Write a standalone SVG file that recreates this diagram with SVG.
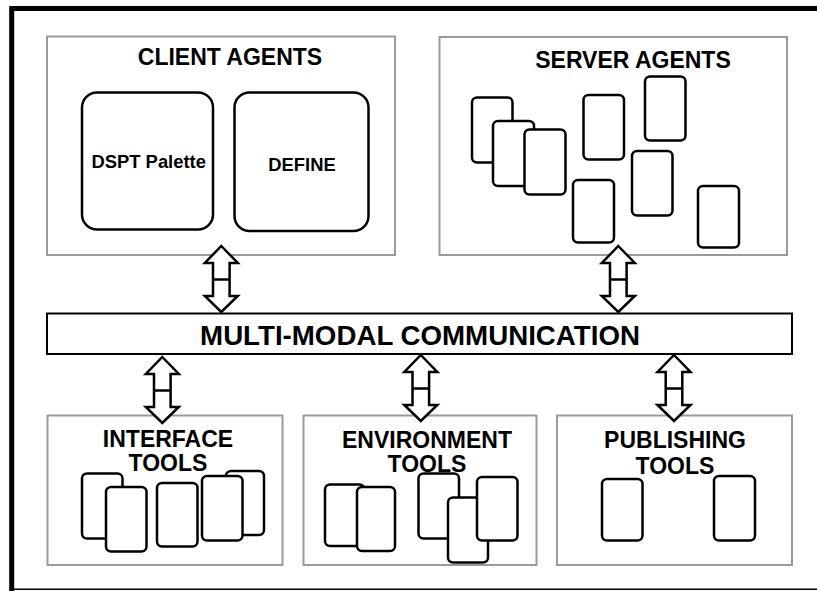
<svg xmlns="http://www.w3.org/2000/svg" width="817" height="591" viewBox="0 0 817 591">
  <style>
    .group { fill: #ffffff; stroke: #9a9a9a; stroke-width: 2; }
    .card { fill: #ffffff; stroke: #000000; stroke-width: 2.5; }
    .bar { fill: #ffffff; stroke: #000000; stroke-width: 2; }
    .arrow { fill: #ffffff; stroke: #000000; stroke-width: 2.5; stroke-linejoin: miter; }
    .cross { stroke: #000000; stroke-width: 2.5; fill: none; }
    .title { font-family: "Liberation Sans", Arial, sans-serif; font-weight: bold; font-size: 23px; text-anchor: middle; fill: #000000; }
    .label { font-family: "Liberation Sans", Arial, sans-serif; font-weight: bold; font-size: 18.4px; text-anchor: middle; fill: #000000; }
    .bus { font-family: "Liberation Sans", Arial, sans-serif; font-weight: bold; font-size: 27.7px; text-anchor: middle; fill: #000000; }
  </style>
  <defs>
    <!-- double-headed hollow arrow, centred on x=0, spanning y 0..66 -->
    <g id="dblArrow">
      <polygon class="arrow" points="0,0 16.5,17 8.3,17 8.3,50 16.5,50 0,66 -16.5,50 -8.3,50 -8.3,17 -16.5,17"/>
      <line class="cross" x1="-8.3" y1="33.5" x2="8.3" y2="33.5"/>
    </g>
  </defs>

  <rect x="0" y="0" width="817" height="591" fill="#ffffff"/>

  <!-- page frame -->
  <path d="M11.7 591 V8.5 H817" fill="none" stroke="#000000" stroke-width="5"/>
  <line x1="14" y1="589.3" x2="817" y2="589.3" stroke="#000000" stroke-width="1.5"/>

  <g id="client-agents">
    <rect class="group" x="47" y="36.5" width="348" height="218.5"/>
    <text class="title" x="230" y="65">CLIENT AGENTS</text>
    <g id="dspt-palette">
      <rect class="card" x="82" y="92.5" width="131" height="137" rx="15"/>
      <text class="label" x="148.7" y="168">DSPT Palette</text>
    </g>
    <g id="define">
      <rect class="card" x="234.5" y="92.5" width="134" height="138.5" rx="15"/>
      <text class="label" x="302" y="171">DEFINE</text>
    </g>
  </g>

  <g id="server-agents">
    <rect class="group" x="439.5" y="37" width="347.5" height="218"/>
    <text class="title" x="633" y="68">SERVER AGENTS</text>
    <rect class="card" x="472" y="97.5" width="40.5" height="65" rx="5"/>
    <rect class="card" x="493" y="121" width="41" height="65" rx="5"/>
    <rect class="card" x="524.5" y="129.5" width="41" height="65" rx="5"/>
    <rect class="card" x="583.5" y="95" width="40.5" height="64.5" rx="5"/>
    <rect class="card" x="645" y="76.5" width="40.5" height="64" rx="5"/>
    <rect class="card" x="632" y="151" width="40.5" height="64.5" rx="5"/>
    <rect class="card" x="573" y="180" width="41" height="62.5" rx="5"/>
    <rect class="card" x="698" y="186" width="41" height="61.5" rx="5"/>
  </g>

  <g id="multi-modal-communication">
    <rect class="bar" x="47" y="313.5" width="745" height="40.5"/>
    <text class="bus" x="420" y="345">MULTI-MODAL COMMUNICATION</text>
  </g>

  <g id="interface-tools">
    <rect class="group" x="47.5" y="415.5" width="235" height="149.5"/>
    <text class="title" x="168" y="447">INTERFACE</text>
    <text class="title" x="168" y="471">TOOLS</text>
    <rect class="card" x="82" y="473.5" width="40.5" height="65" rx="5"/>
    <rect class="card" x="106" y="487" width="40.5" height="64.5" rx="5"/>
    <rect class="card" x="157" y="483" width="40.5" height="63.5" rx="5"/>
    <rect class="card" x="226" y="471" width="38" height="64" rx="5"/>
    <rect class="card" x="202" y="476" width="40.5" height="64.5" rx="5"/>
  </g>

  <g id="environment-tools">
    <rect class="group" x="303.5" y="415.5" width="233" height="149.5"/>
    <text class="title" x="427" y="448">ENVIRONMENT</text>
    <text class="title" x="427" y="472">TOOLS</text>
    <rect class="card" x="325" y="484.5" width="39.5" height="61.5" rx="5"/>
    <rect class="card" x="357" y="487" width="38" height="64" rx="5"/>
    <rect class="card" x="418.5" y="473.5" width="40.5" height="65" rx="5"/>
    <rect class="card" x="448" y="497.5" width="40" height="65" rx="5"/>
    <rect class="card" x="477" y="477" width="40.5" height="63.5" rx="5"/>
  </g>

  <g id="publishing-tools">
    <rect class="group" x="557" y="415.5" width="235" height="149.5"/>
    <text class="title" x="675" y="448">PUBLISHING</text>
    <text class="title" x="675" y="474">TOOLS</text>
    <rect class="card" x="602" y="479" width="40.5" height="61.5" rx="5"/>
    <rect class="card" x="714" y="476" width="41" height="64.5" rx="5"/>
  </g>

  <g id="connectors">
    <use href="#dblArrow" x="221.3" y="246"/>
    <use href="#dblArrow" x="618.3" y="246"/>
    <use href="#dblArrow" x="162.3" y="357"/>
    <use href="#dblArrow" x="420.8" y="355"/>
    <use href="#dblArrow" x="674" y="355"/>
  </g>
</svg>
